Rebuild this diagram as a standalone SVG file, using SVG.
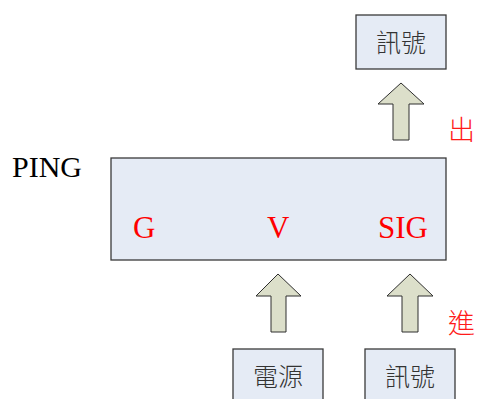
<svg xmlns="http://www.w3.org/2000/svg" width="478" height="399" viewBox="0 0 478 399">
  <defs>
    <style>
      .box { fill: #e5ebf5; stroke: #3a3a3a; stroke-width: 1.3; }
      .arrow { fill: #dcdfca; stroke: #2e2e2e; stroke-width: 1; stroke-linejoin: miter; }
      .cjk { font-family: "Noto Sans CJK TC", "Noto Sans CJK SC", sans-serif; font-size: 25px; fill: #333333; text-anchor: middle; font-weight: 300; }
      .red-cjk { font-family: "Noto Sans CJK TC", "Noto Sans CJK SC", sans-serif; font-size: 27px; fill: #ff1a1a; font-weight: 300; }
      .pin { font-family: "Liberation Serif", "Times New Roman", serif; font-size: 31px; fill: #ff0000; }
      .title { font-family: "Liberation Serif", "Times New Roman", serif; font-size: 30px; fill: #000000; }
    </style>
  </defs>

  <!-- module -->
  <g id="ping">
    <text class="title" x="12" y="177">PING</text>
    <rect class="box" x="111" y="158" width="335" height="102"/>
    <text class="pin" x="133" y="238">G</text>
    <text class="pin" x="267" y="238">V</text>
    <text class="pin" x="378" y="238">SIG</text>
  </g>

  <g id="signal-out">
    <rect class="box" x="356" y="15" width="90" height="54"/>
    <text class="cjk" x="401" y="52">訊號</text>
  </g>

  <g id="power">
    <rect class="box" x="233" y="349" width="90" height="60"/>
    <text class="cjk" x="278" y="386">電源</text>
  </g>

  <g id="signal-in">
    <rect class="box" x="365" y="349" width="90" height="60"/>
    <text class="cjk" x="410" y="386">訊號</text>
  </g>

  <!-- block arrows -->
  <g id="connectors">
    <polygon class="arrow" points="401,83 424,104 409,104 409,140 393,140 393,104 378,104"/>
    <polygon class="arrow" points="278,274 301,296 286,296 286,332 271,332 271,296 256,296"/>
    <polygon class="arrow" points="410,274 433,296 418,296 418,332 402,332 402,296 387,296"/>
    <text class="red-cjk" x="448" y="140">出</text>
    <text class="red-cjk" x="448" y="333">進</text>
  </g>
</svg>
